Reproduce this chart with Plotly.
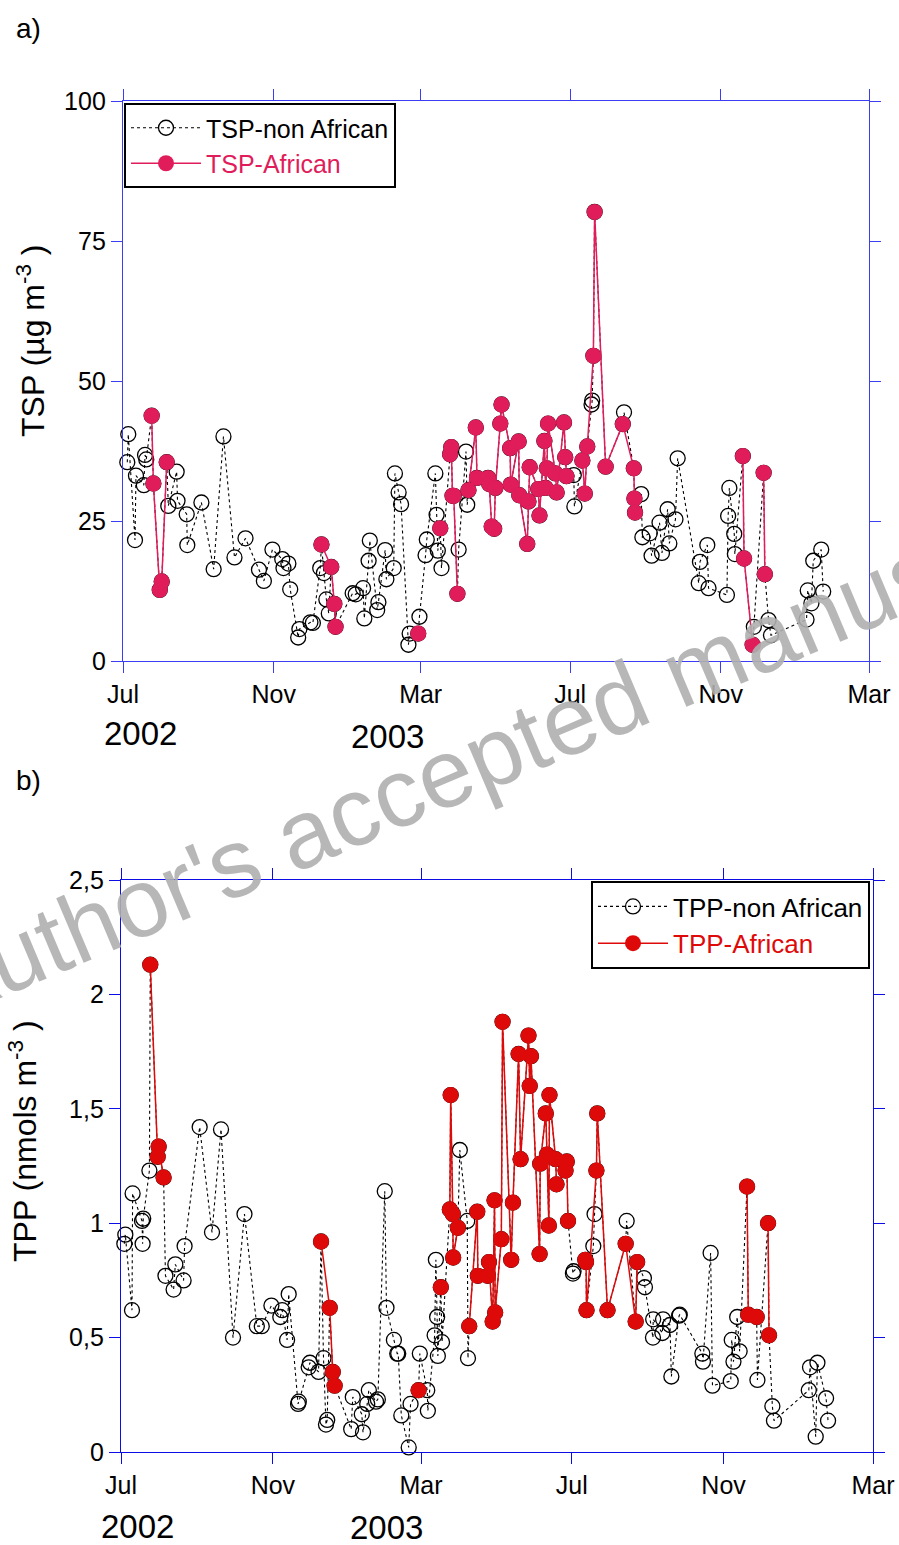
import pandas as pd
import plotly.graph_objects as go

BASE = pd.Timestamp("2002-07-01")

# ---------------- Panel a) TSP (days since 1 Jul 2002) ----------------
tsp_days = [3.5, 4.3, 9.8, 10.6, 17, 18, 19, 23.4, 24.8, 30, 31.6, 35.7, 37, 43.8, 44.5,
            52, 52.5, 64, 74, 82, 91, 100, 111, 115, 122, 130, 131, 135, 136.5, 143, 144,
            153, 155, 161, 162, 164, 166, 168, 170, 172.5, 173.5, 187.5, 190, 196, 197,
            200.5, 201.5, 207.5, 208.5, 214, 215, 221, 222, 225, 227, 233, 234, 241, 242,
            247, 248, 255, 256, 257, 259, 260, 267, 268, 269, 270, 273, 274, 280, 281, 282,
            288, 289, 298, 299, 301, 303, 304, 308, 309, 316, 316.5, 323, 323.5, 330, 331,
            332, 339, 340, 344, 345, 346, 347, 353, 354, 360, 361, 362, 368, 368.5, 375,
            377, 379, 382.5, 383, 384, 385, 394, 408, 409, 417, 417.5, 418, 423, 424, 430,
            431.5, 438, 440, 444.6, 446, 451, 452.8, 470, 471, 477, 478, 493, 494, 495, 499,
            499.5, 506, 507, 514, 515, 523, 524, 527, 529, 558, 559, 562, 563.5, 570, 571.6]
tsp_vals = [35.5, 40.5, 21.6, 33.1, 31.4, 36.8, 36.0, 43.8, 31.7, 12.7, 14.2, 35.5, 27.7, 33.8, 28.6,
            26.2, 20.7, 28.3, 16.4, 40.1, 18.5, 21.9, 16.3, 14.3, 19.9, 18.2, 16.6, 17.4, 12.8, 4.2, 5.7,
            6.9, 6.8, 16.6, 20.8, 15.7, 11.0, 8.5, 16.8, 10.2, 6.1, 12.1, 11.9, 13.0, 7.6,
            17.9, 21.5, 9.1, 10.5, 19.8, 14.6, 16.6, 33.5, 30.1, 28.0, 2.9, 4.9, 4.9, 7.9,
            18.9, 21.7, 33.5, 26.1, 19.7, 23.7, 16.6, 36.9, 38.2, 29.5, 29.5, 12.0, 19.9, 37.4, 27.9, 30.5,
            41.7, 32.7, 32.7, 31.6, 24.0, 23.6, 30.9, 42.4, 45.8, 38.0, 31.5, 39.2, 29.6, 20.9, 28.5,
            34.6, 30.7, 26.0, 39.3, 30.9, 34.4, 42.4, 33.5, 30.1, 42.6, 36.4, 33.0, 33.2, 27.6, 35.8,
            29.9, 38.3, 45.8, 46.5, 54.5, 80.2, 34.7, 42.3, 44.4, 34.4, 29.0, 26.5, 29.8, 22.1, 22.8,
            18.8, 24.7, 19.3, 27.1, 21.0, 25.3, 36.2, 13.9, 17.7, 20.7, 13.0, 11.8, 25.9, 30.9, 22.7,
            19.1, 36.6, 18.3, 2.9, 6.1, 33.6, 15.5, 7.3, 4.6, 7.4, 12.6, 10.3, 17.9, 19.9, 12.4]
# 0 = non African; k > 0 = African event number
tsp_event = [0, 0, 0, 0, 0, 0, 0, 1, 1, 1, 1, 1, 0, 0, 0,
             0, 0, 0, 0, 0, 0, 0, 0, 0, 0, 0, 0, 0, 0, 0, 0,
             0, 0, 0, 2, 0, 0, 0, 2, 2, 2, 0, 0, 0, 0,
             0, 0, 0, 0, 0, 0, 0, 0, 0, 0, 0, 0, 3, 0,
             0, 0, 0, 0, 0, 4, 0, 5, 5, 5, 5, 5, 0, 0, 0, 6,
             6, 6, 6, 6, 6, 6, 6, 6, 6, 6, 6, 6, 6, 6, 6,
             6, 6, 6, 6, 6, 6, 6, 6, 6, 6, 6, 6, 0, 0, 7,
             7, 7, 0, 0, 7, 7, 7, 7, 0, 7, 7, 7, 0, 0, 0,
             0, 0, 0, 0, 0, 0, 0, 0, 0, 0, 0, 0, 0, 0, 0,
             0, 8, 8, 8, 0, 9, 9, 0, 0, 0, 0, 0, 0, 0, 0]

# ---------------- Panel b) TPP ----------------
tpp_days = [2.7, 3.5, 8.9, 9.4, 17, 17.5, 18, 23, 23.7, 29.7, 30.5, 34.5, 36, 42.6, 44,
            50.7, 51.5, 63.7, 73.7, 81, 90.7, 100, 110, 114, 121.8, 129, 130.5, 134.5, 135.8,
            143.4, 144, 152, 153, 160, 162, 164, 166, 167, 169, 171.5, 173, 186.4, 187.7,
            195, 196, 199.4, 200.7, 206.5, 208, 213.6, 215, 221, 223.7, 224.5, 227, 233,
            234.5, 241, 242, 248, 248.5, 254, 255, 256, 256.6, 259, 260, 266.3, 267, 268.7,
            269, 272.8, 274.4, 280.4, 281, 282, 288.5, 289, 297, 298, 301, 302.5, 303, 308,
            309, 316, 317.4, 322, 323.6, 330, 331, 332, 339, 339.5, 344, 345, 346.5, 347,
            352, 352.7, 360, 361, 362, 366, 366.5, 376, 376.6, 377, 382.5, 383.5, 385, 385.7,
            394, 408.7, 409.5, 416.8, 418, 423.5, 424.3, 430.8, 431, 438.4, 439, 444.6, 445.7,
            452, 452.5, 470.8, 471.3, 477.5, 479, 493.8, 494.6, 496, 499, 501, 507, 508,
            514.8, 515.4, 524, 524.8, 527.5, 528.8, 557, 558, 562.6, 564, 571, 572.6]
tpp_vals = [0.91, 0.95, 0.62, 1.13, 1.01, 0.91, 1.02, 1.23, 2.13, 1.29, 1.335, 1.20, 0.77, 0.71, 0.82,
            0.75, 0.90, 1.42, 0.96, 1.41, 0.50, 1.04, 0.55, 0.55, 0.64, 0.59, 0.62, 0.49, 0.69,
            0.21, 0.22, 0.37, 0.39, 0.35, 0.92, 0.41, 0.12, 0.14, 0.63, 0.35, 0.29, 0.10, 0.24,
            0.165, 0.086, 0.21, 0.27, 0.22, 0.23, 1.14, 0.63, 0.49, 0.43, 0.43, 0.16, 0.02,
            0.21, 0.27, 0.43, 0.27, 0.18, 0.51, 0.84, 0.59, 0.42, 0.72, 0.48, 1.06, 1.56, 1.04,
            0.85, 0.98, 1.32, 1.01, 0.41, 0.55, 1.05, 0.77, 0.77, 0.83, 0.57, 1.10, 0.61, 0.93,
            1.88, 0.84, 1.09, 1.74, 1.28, 1.82, 1.60, 1.73, 0.865, 1.26, 1.48, 1.30, 0.99, 1.56,
            1.28, 1.17, 1.23, 1.27, 1.01, 0.78, 0.79, 0.84, 0.83, 0.62, 0.90, 1.04, 1.23, 1.48,
            0.62, 0.91, 1.01, 0.57, 0.83, 0.76, 0.72, 0.50, 0.58, 0.52, 0.58, 0.555, 0.33,
            0.596, 0.60, 0.43, 0.395, 0.87, 0.29, 0.31, 0.49, 0.395, 0.59, 0.44, 1.16, 0.60,
            0.59, 0.315, 1.00, 0.51, 0.20, 0.137, 0.27, 0.37, 0.067, 0.39, 0.235, 0.137]
tpp_event = [0, 0, 0, 0, 0, 0, 0, 0, 1, 1, 1, 1, 0, 0, 0,
             0, 0, 0, 0, 0, 0, 0, 0, 0, 0, 0, 0, 0, 0,
             0, 0, 0, 0, 0, 2, 0, 0, 0, 2, 2, 2, 0, 0,
             0, 0, 0, 0, 0, 0, 0, 0, 0, 0, 0, 0, 0,
             0, 3, 0, 0, 0, 0, 0, 0, 0, 4, 0, 5, 5, 5,
             5, 5, 0, 0, 0, 6, 6, 6, 6, 6, 6, 6, 6, 6,
             6, 6, 6, 6, 6, 6, 6, 6, 6, 6, 6, 6, 6, 6,
             6, 6, 6, 6, 6, 0, 0, 7, 7, 7, 0, 0, 7, 7,
             7, 7, 0, 7, 7, 0, 0, 0, 0, 0, 0, 0, 0,
             0, 0, 0, 0, 0, 0, 0, 0, 0, 0, 0, 8, 8,
             8, 0, 9, 9, 0, 0, 0, 0, 0, 0, 0, 0]

x_tickvals = ["2002-07-01", "2002-11-01", "2003-03-01", "2003-07-01", "2003-11-01", "2004-03-01"]
x_ticktext = ["Jul", "Nov", "Mar", "Jul", "Nov", "Mar"]
tsp_ticks = [0, 25, 50, 75, 100]
tpp_ticks = [0, 0.5, 1, 1.5, 2, 2.5]
tpp_ticktext = ["0", "0,5", "1", "1,5", "2", "2,5"]

FONT = "Arial, 'Liberation Sans', sans-serif"
W, H = 899, 1545
RED_A = "#E01C5B"
RED_B = "#DE0A0A"

fig = go.Figure()


def add_panel(days, vals, event, xa, ya, name_n, name_a, red, legend):
    dates = [BASE + pd.Timedelta(days=d) for d in days]
    fig.add_trace(go.Scatter(
        x=dates, y=vals, mode="lines+markers", name=name_n,
        line=dict(color="black", width=1.1, dash="3px,3px"),
        marker=dict(symbol="circle-open", size=15, color="black", line=dict(width=1.3)),
        xaxis=xa, yaxis=ya, legend=legend, cliponaxis=False))
    rx, ry, prev = [], [], None
    for d, v, e in zip(dates, vals, event):
        if e == 0:
            continue
        if prev is not None and e != prev:
            rx.append(None)
            ry.append(None)
        rx.append(d)
        ry.append(v)
        prev = e
    fig.add_trace(go.Scatter(
        x=rx, y=ry, mode="lines+markers", connectgaps=False,
        name="<span style='color:%s'>%s</span>" % (red, name_a),
        line=dict(color=red, width=1.5),
        marker=dict(symbol="circle", size=16, color=red, line=dict(width=0)),
        xaxis=xa, yaxis=ya, legend=legend, cliponaxis=False))


add_panel(tsp_days, tsp_vals, tsp_event, "x", "y", "TSP-non African", "TSP-African", RED_A, "legend")
add_panel(tpp_days, tpp_vals, tpp_event, "x2", "y2", "TPP-non African", "TPP-African", RED_B, "legend2")


def px_x(p):
    return p / W


def px_y(p):
    return 1 - p / H


axis_common = dict(showline=True, mirror="ticks", ticks="outside", ticklen=11, tickwidth=1.3,
                   linewidth=1.4, showgrid=False, zeroline=False, automargin=False,
                   tickfont=dict(family=FONT, size=25, color="black"))

BLUE_A = "#3c3cf2"
BLUE_B = "#0c0ce6"

fig.update_layout(
    width=W, height=H, margin=dict(l=0, r=0, t=0, b=0, autoexpand=False),
    paper_bgcolor="white", plot_bgcolor="white",
    font=dict(family=FONT, color="black"),
    xaxis=dict(domain=[px_x(123), px_x(869)], anchor="y", range=["2002-07-01", "2004-03-01"],
               tickvals=x_tickvals, ticktext=x_ticktext, linecolor=BLUE_A, tickcolor=BLUE_A,
               **axis_common),
    yaxis=dict(domain=[px_y(661), px_y(101)], anchor="x", range=[0, 100],
               tickvals=tsp_ticks, linecolor=BLUE_A, tickcolor=BLUE_A, **axis_common),
    xaxis2=dict(domain=[px_x(121), px_x(873)], anchor="y2", range=["2002-07-01", "2004-03-01"],
                tickvals=x_tickvals, ticktext=x_ticktext, linecolor=BLUE_B, tickcolor=BLUE_B,
                **axis_common),
    yaxis2=dict(domain=[px_y(1452), px_y(880)], anchor="x2", range=[0, 2.5],
                tickvals=tpp_ticks, ticktext=tpp_ticktext, linecolor=BLUE_B, tickcolor=BLUE_B,
                **axis_common),
    legend=dict(x=px_x(124), y=px_y(103), xanchor="left", yanchor="top",
                bgcolor="white", bordercolor="black", borderwidth=2,
                font=dict(family=FONT, size=25, color="black"), itemwidth=70,
                tracegroupgap=0),
    legend2=dict(x=px_x(870), y=px_y(881), xanchor="right", yanchor="top",
                 bgcolor="white", bordercolor="black", borderwidth=2,
                 font=dict(family=FONT, size=26, color="black"), itemwidth=70,
                 tracegroupgap=0),
    showlegend=True,
)

annots = [
    dict(text="a)", x=px_x(14), y=px_y(28), xanchor="left", yanchor="middle", size=28),
    dict(text="b)", x=px_x(14), y=px_y(780), xanchor="left", yanchor="middle", size=28),
    dict(text="2002", x=px_x(140), y=px_y(733), xanchor="center", yanchor="middle", size=33),
    dict(text="2003", x=px_x(387), y=px_y(736), xanchor="center", yanchor="middle", size=33),
    dict(text="2002", x=px_x(137), y=px_y(1526), xanchor="center", yanchor="middle", size=33),
    dict(text="2003", x=px_x(386), y=px_y(1527), xanchor="center", yanchor="middle", size=33),
]
for a in annots:
    fig.add_annotation(text=a["text"], x=a["x"], y=a["y"], xref="paper", yref="paper",
                       xanchor=a["xanchor"], yanchor=a["yanchor"], showarrow=False,
                       font=dict(family=FONT, size=a["size"], color="black"))

fig.add_annotation(text="TSP (µg m<sup>-3</sup> )", x=px_x(31), y=px_y(341), xref="paper",
                   yref="paper", xanchor="center", yanchor="middle", textangle=-90,
                   showarrow=False, font=dict(family=FONT, size=32, color="black"))
fig.add_annotation(text="TPP (nmols m<sup>-3</sup> )", x=px_x(23), y=px_y(1141), xref="paper",
                   yref="paper", xanchor="center", yanchor="middle", textangle=-90,
                   showarrow=False, font=dict(family=FONT, size=32, color="black"))

# watermark
fig.add_annotation(text="Author's accepted manuscript", x=px_x(517), y=px_y(743), xref="paper",
                   yref="paper", xanchor="center", yanchor="middle", textangle=-23,
                   showarrow=False,
                   font=dict(family=FONT, size=97, color="rgba(175,175,175,0.9)"))

fig.write_html("out.html")
